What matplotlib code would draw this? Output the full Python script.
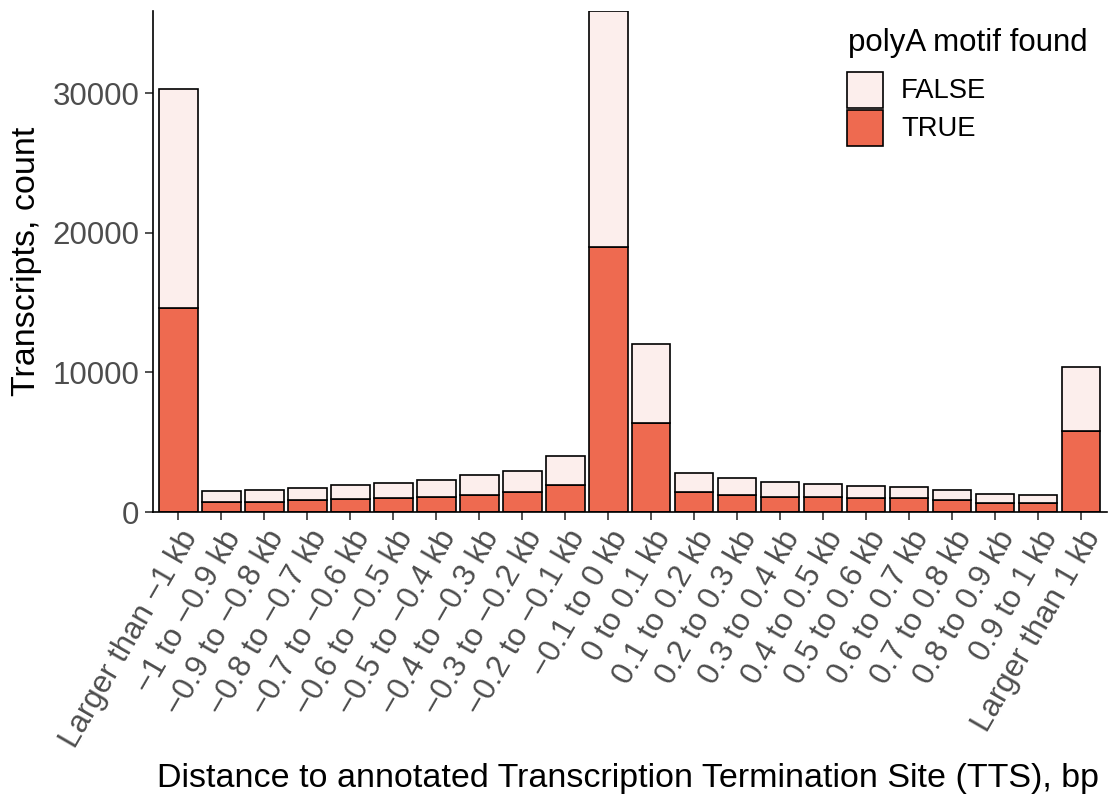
import numpy as np
import matplotlib
matplotlib.use("Agg")
import matplotlib.pyplot as plt
from matplotlib.patches import Rectangle

plt.rcParams['font.family'] = ['Liberation Sans', 'DejaVu Sans']

# data
categories = [
    "Larger than \u22121 kb", "\u22121 to \u22120.9 kb", "\u22120.9 to \u22120.8 kb",
    "\u22120.8 to \u22120.7 kb", "\u22120.7 to \u22120.6 kb", "\u22120.6 to \u22120.5 kb",
    "\u22120.5 to \u22120.4 kb", "\u22120.4 to \u22120.3 kb", "\u22120.3 to \u22120.2 kb",
    "\u22120.2 to \u22120.1 kb", "\u22120.1 to 0 kb", "0 to 0.1 kb",
    "0.1 to 0.2 kb", "0.2 to 0.3 kb", "0.3 to 0.4 kb", "0.4 to 0.5 kb",
    "0.5 to 0.6 kb", "0.6 to 0.7 kb", "0.7 to 0.8 kb", "0.8 to 0.9 kb",
    "0.9 to 1 kb", "Larger than 1 kb",
]
true_counts = [14650, 740, 750, 885, 930, 1030, 1100, 1220, 1455, 1935, 19000,
               6410, 1435, 1245, 1055, 1055, 1005, 1005, 840, 675, 675, 5785]
false_counts = [15650, 760, 830, 860, 1005, 1050, 1170, 1430, 1485, 2105, 16910,
                5630, 1385, 1170, 1125, 980, 885, 785, 715, 615, 570, 4585]
y_ticks = [0, 10000, 20000, 30000]

col_true = "#EE6A50"
col_false = "#FCEEEC"

W, H = 1108, 798
fig = plt.figure(figsize=(W / 100, H / 100), dpi=100)
ax = fig.add_axes([152.5 / W, 1 - 512 / H, (1106.8 - 152.5) / W, (512 - 11) / H])

x = np.arange(len(categories))
ax.bar(x, true_counts, width=0.9, color=col_true, edgecolor="black", linewidth=1.2)
ax.bar(x, false_counts, width=0.9, bottom=true_counts, color=col_false,
       edgecolor="black", linewidth=1.2)

ax.set_xlim(-0.6, len(categories) - 0.4)
ax.set_ylim(0, 35910)

ax.set_yticks(y_ticks)
ax.set_yticklabels([str(v) for v in y_ticks])
ax.set_xticks(x)
ax.set_xticklabels(categories, rotation=60, ha="right", va="top",
                   rotation_mode="anchor")

for side in ["top", "right"]:
    ax.spines[side].set_visible(False)
for side in ["left", "bottom"]:
    ax.spines[side].set_linewidth(1.2)
    ax.spines[side].set_color("black")

ax.tick_params(axis="both", colors="#333333", width=1.2, length=5.5,
               labelsize=22.5, labelcolor="#4D4D4D")
ax.tick_params(axis="x", pad=4)
ax.tick_params(axis="y", pad=4)

# axis titles
fig.text(628 / W, 1 - 778 / H,
         "Distance to annotated Transcription Termination Site (TTS), bp",
         ha="center", va="center", fontsize=24.5, color="black")
fig.text(27 / W, 1 - 261 / H, "Transcripts, count", rotation=90,
         ha="center", va="center", fontsize=24.5, color="black")

# legend
fig.text(848 / W, 1 - 43.5 / H, "polyA motif found", ha="left", va="center",
         fontsize=22.5, color="black")
for label, col, top in [("FALSE", col_false, 72), ("TRUE", col_true, 110)]:
    fig.add_artist(Rectangle((847 / W, 1 - (top + 36) / H), 36 / W, 36 / H,
                             transform=fig.transFigure, facecolor=col,
                             edgecolor="black", linewidth=1.2))
    fig.text(901 / W, 1 - (top + 19.5) / H, label, ha="left", va="center",
             fontsize=19.7, color="black")

fig.savefig("out.png", dpi=100)
